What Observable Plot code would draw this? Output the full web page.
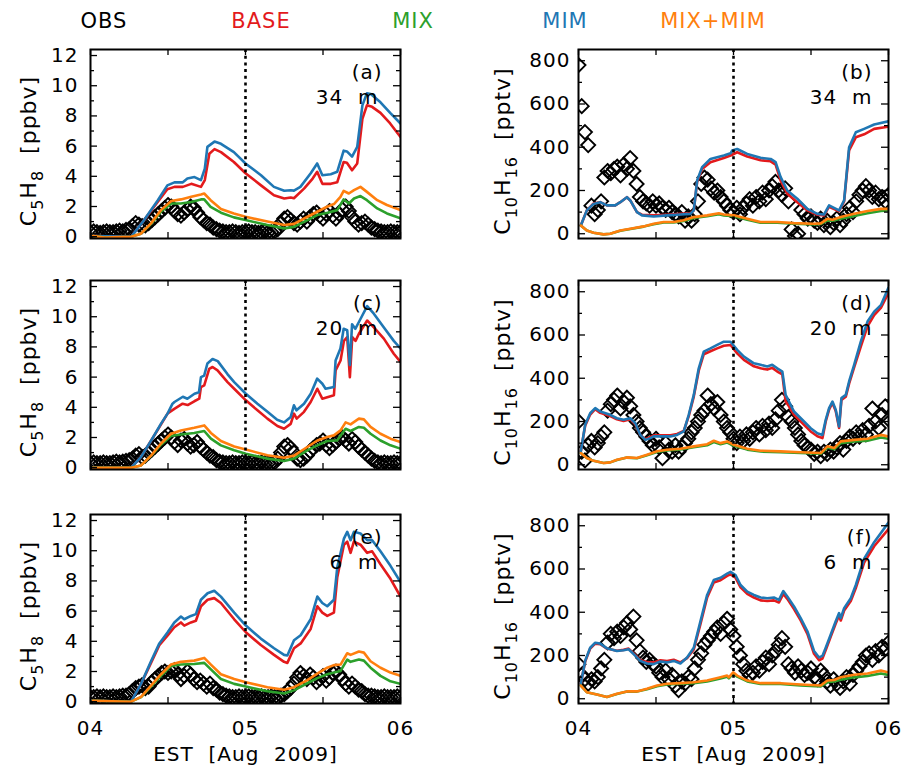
<!DOCTYPE html>
<html><head><meta charset="utf-8">
<script src="https://cdn.jsdelivr.net/npm/d3@7"></script>
<script src="https://cdn.jsdelivr.net/npm/@observablehq/plot@0.6"></script>
<style>
body{margin:0;background:#fff;}
#fig{position:relative;width:904px;height:772px;overflow:hidden;font-family:"DejaVu Sans",sans-serif;background:#fff;}
.leg{position:absolute;top:9px;font-size:21px;letter-spacing:1px;transform:translateX(-50%);white-space:pre;}
.panel{position:absolute;}
</style></head><body><div id="fig"></div><script>
// ---------- legend / series ----------
const legendNames = ["OBS", "BASE", "MIX", "MIM", "MIX+MIM"];
const legendColors = ["#000000", "#e31a1c", "#2ca02c", "#1f77b4", "#ff7f0e"];
const seriesNames = ["BASE", "MIM", "MIX", "MIX+MIM"];   // drawing order
const seriesColors = {"BASE": "#e31a1c", "MIX": "#2ca02c", "MIM": "#1f77b4", "MIX+MIM": "#ff7f0e"};

// ---------- axes ----------
const xTickHours = [0, 24, 48];
const xTickLabels = ["04", "05", "06"];
const xMinorHours = [0, 12, 24, 36, 48];
const isoTicks = [0, 2, 4, 6, 8, 10, 12];
const isoMinor = [1, 3, 5, 7, 9, 11];
const monoTicks = [0, 200, 400, 600, 800];
const monoMinor = [100, 300, 500, 700];
const panelIds = ["(a)", "(b)", "(c)", "(d)", "(e)", "(f)"];
const heightLabels = ["34\u00a0\u00a0m", "34\u00a0\u00a0m", "20\u00a0\u00a0m", "20\u00a0\u00a0m", "6\u00a0\u00a0m", "6\u00a0\u00a0m"];
// axis titles: [text, isSubscript]
const isoLabelParts = [["C", 0], ["5", 1], ["H", 0], ["8", 1], ["\u00a0\u00a0[ppbv]", 0]];
const monoLabelParts = [["C", 0], ["10", 1], ["H", 0], ["16", 1], ["\u00a0\u00a0[pptv]", 0]];
const xLabel = "EST\u00a0\u00a0[Aug\u00a0\u00a02009]";

// observations every 30 min from 04 Aug 00:00 (hours 0..48)
const obsStepHours = 0.5;

// ---------- C5H8 (ppbv) model series: [hour, value] ----------
const isoMim34 = [[0.4,0.05],[6.3,0],[8.3,1.1],[10.4,2.4],[11.9,3.4],[13.0,3.6],[14.3,3.6],[15.0,3.85],[16.1,3.95],[17.1,3.75],[17.7,4.5],[18.1,5.95],[19.2,6.3],[20.2,6.15],[22.2,5.6],[24.0,4.85],[26.4,4.07],[28.4,3.3],[30.0,3.04],[31.0,3.08],[31.5,3.05],[32.5,3.3],[34.1,4.2],[35.1,4.85],[35.9,4.07],[37.2,4.14],[38.2,4.3],[39.2,5.7],[39.7,5.65],[40.5,5.3],[41.3,5.95],[42.1,8.7],[42.8,9.5],[43.4,9.45],[44.9,8.9],[46.4,8.2],[48,7.5]];
const isoBase34 = [[0.4,0.05],[6.3,0],[8.3,1.1],[10.4,2.3],[11.9,3.15],[13.0,3.3],[14.3,3.3],[15.6,3.5],[17.1,3.3],[17.7,3.75],[18.4,5.5],[19.2,5.8],[20.2,5.6],[22.2,4.95],[24.0,4.2],[26.4,3.4],[28.4,2.75],[30.0,2.53],[31.0,2.6],[31.5,2.55],[33.1,3.2],[34.4,3.85],[35.1,4.3],[35.9,3.5],[37.2,3.5],[38.2,3.6],[39.2,4.95],[39.7,4.9],[40.5,4.4],[41.3,4.85],[42.1,7.8],[42.8,8.7],[43.6,8.6],[44.9,8.2],[46.4,7.5],[48,6.6]];
const isoMixMim34 = [[0.4,0.05],[2.2,-0.05],[6.3,0],[7.8,0.2],[9.4,0.9],[10.9,1.76],[12.5,2.36],[14.0,2.47],[15.6,2.64],[17.1,2.8],[17.6,2.86],[18.6,2.42],[20.2,1.83],[22.2,1.54],[24.0,1.32],[27.4,1.0],[30.0,0.77],[31.5,0.85],[33.6,1.32],[35.1,1.65],[36.7,2.0],[37.7,2.16],[38.7,2.64],[39.2,3.04],[40.0,2.86],[40.8,3.08],[41.8,3.3],[42.8,2.97],[44.4,2.42],[45.9,2.1],[48,1.76]];
const isoMix34 = [[0.4,0.05],[2.2,-0.05],[6.3,0],[7.8,0.2],[9.4,0.85],[10.9,1.65],[12.5,2.2],[14.0,2.2],[15.6,2.3],[17.1,2.47],[17.6,2.47],[18.6,1.98],[20.2,1.59],[22.2,1.28],[24.0,1.1],[27.4,0.77],[30.0,0.55],[31.5,0.65],[33.6,1.1],[35.1,1.43],[36.7,1.59],[38.2,1.76],[39.2,2.47],[40.0,2.2],[40.8,2.53],[41.8,2.69],[42.8,2.42],[44.4,1.87],[45.9,1.54],[48,1.21]];

const isoMim20 = [[0.4,0],[6.3,0],[7.8,0.7],[9.4,1.8],[10.9,2.9],[11.95,3.6],[12.7,4.24],[13.0,4.35],[14.3,4.7],[15.0,4.57],[16.1,4.9],[16.8,5.0],[17.1,6.0],[17.6,6.1],[18.1,6.9],[18.9,7.2],[19.7,7.06],[21.2,6.2],[22.25,5.67],[24.05,4.9],[25.85,4.24],[27.4,3.7],[28.9,3.18],[29.97,3.0],[31.0,3.36],[31.5,4.13],[31.9,3.8],[33.06,4.24],[34.1,4.9],[35.1,5.9],[35.9,5.56],[36.4,5.23],[37.7,5.34],[37.95,7.1],[38.7,7.9],[39.2,9.2],[39.75,9.1],[40.16,6.8],[40.5,9.5],[41.0,9.2],[41.56,9.65],[42.84,10.7],[43.87,10.2],[45.4,9.3],[46.96,8.4],[48,7.9]];
const isoBase20 = [[0.4,0],[6.3,0],[7.8,0.7],[9.4,1.8],[10.9,2.85],[11.95,3.6],[12.98,3.9],[14.26,4.24],[15.04,4.15],[16.07,4.4],[16.84,4.57],[17.1,5.34],[17.61,5.45],[18.38,6.55],[18.9,6.67],[19.67,6.45],[21.22,5.67],[22.25,5.23],[24.05,4.46],[25.85,3.8],[27.39,3.25],[28.94,2.76],[29.97,2.58],[31.0,2.9],[31.51,3.58],[31.93,3.25],[33.06,3.7],[34.09,4.35],[35.12,5.23],[35.89,4.57],[37.69,4.8],[37.95,6.45],[38.72,7.1],[39.24,8.4],[39.75,8.65],[40.16,6.0],[40.53,8.65],[41.04,8.4],[41.56,8.87],[42.84,9.75],[43.87,9.3],[45.42,8.55],[46.96,7.55],[48,7.0]];
const isoMixMim20 = [[0.4,0],[6.3,0],[7.83,0.15],[9.37,0.8],[10.92,1.6],[12.46,2.25],[14.0,2.47],[16.07,2.65],[17.61,2.8],[18.64,2.3],[20.19,1.77],[22.25,1.4],[24.05,1.2],[27.39,0.82],[29.97,0.66],[31.51,0.8],[33.57,1.37],[35.12,1.8],[36.66,2.03],[37.69,2.14],[38.72,2.47],[39.5,3.0],[40.27,2.87],[41.56,3.25],[42.33,3.2],[43.36,2.7],[44.9,2.25],[46.45,1.92],[48,1.7]];
const isoMix20 = [[0.4,0],[6.3,0],[7.83,0.15],[9.37,0.78],[10.92,1.52],[12.46,2.1],[14.0,2.2],[16.07,2.3],[17.61,2.43],[18.64,1.92],[20.19,1.48],[22.25,1.15],[24.05,0.93],[27.39,0.6],[29.97,0.44],[31.51,0.6],[33.57,1.15],[35.12,1.48],[36.66,1.77],[38.21,1.81],[39.5,2.58],[40.27,2.43],[41.56,2.7],[42.33,2.65],[43.36,2.25],[44.9,1.8],[46.45,1.48],[48,1.26]];

const isoMim6 = [[0.36,0.06],[6.28,0],[7.83,1.18],[9.37,2.68],[10.66,3.86],[11.95,4.6],[12.98,5.25],[14.0,5.64],[14.52,5.46],[15.55,5.68],[16.32,5.8],[17.1,6.75],[18.13,7.18],[19.16,7.35],[20.19,6.96],[22.25,5.9],[24.05,5.04],[26.37,4.18],[28.42,3.54],[29.97,3.1],[30.48,3.06],[31.51,4.07],[32.54,4.4],[34.09,5.46],[35.12,6.96],[35.89,6.54],[36.66,6.32],[37.69,6.75],[38.21,8.9],[39.24,10.8],[39.75,11.25],[40.27,10.7],[40.78,11.25],[41.81,11.14],[42.84,10.7],[43.61,10.7],[44.9,9.96],[46.45,9.0],[48,7.93]];
const isoBase6 = [[0.36,0.06],[6.28,0],[7.83,1.18],[9.37,2.57],[10.66,3.75],[11.95,4.39],[12.98,4.93],[14.0,5.25],[14.52,5.04],[15.55,5.25],[16.32,5.36],[17.1,6.32],[18.13,6.75],[19.16,6.86],[20.19,6.54],[22.25,5.46],[24.05,4.6],[26.37,3.75],[28.42,3.1],[29.97,2.64],[30.48,2.57],[31.51,3.54],[32.54,3.86],[34.09,4.82],[35.12,6.32],[35.89,5.9],[36.66,5.68],[37.69,5.9],[38.21,8.25],[39.24,10.4],[39.75,10.6],[40.27,9.86],[40.78,10.6],[41.81,10.4],[42.84,9.86],[43.61,9.96],[44.9,9.1],[46.45,8.14],[48,6.96]];
const isoMixMim6 = [[0.36,0.06],[6.28,0],[7.83,0.32],[9.37,1.07],[10.92,1.82],[12.46,2.46],[14.0,2.64],[16.07,2.72],[17.61,2.9],[18.64,2.46],[20.19,1.82],[22.25,1.5],[24.05,1.29],[27.39,0.96],[29.97,0.79],[31.51,0.96],[33.57,1.43],[35.12,1.86],[36.66,2.25],[37.69,2.42],[38.72,2.46],[39.75,3.21],[40.27,3.1],[41.56,3.32],[42.33,3.25],[43.36,2.68],[44.9,2.25],[46.45,1.93],[48,1.71]];
const isoMix6 = [[0.36,0.06],[6.28,0],[7.83,0.3],[9.37,1.0],[10.92,1.71],[12.46,2.36],[14.0,2.46],[16.07,2.5],[17.61,2.57],[18.64,2.14],[20.19,1.5],[22.25,1.18],[24.05,1.0],[27.39,0.69],[29.97,0.54],[31.51,0.75],[33.57,1.22],[35.12,1.56],[36.66,1.82],[37.69,1.93],[38.72,2.04],[39.75,2.79],[40.27,2.64],[41.56,2.79],[42.33,2.72],[43.36,2.25],[44.9,1.71],[46.45,1.35],[48,1.18]];

// ---------- C10H16 (pptv) model series: [hour, value] ----------
const monoMim34 = [[0.36,38],[1.29,108],[2.33,138],[3.36,146],[4.4,131],[5.69,131],[6.47,146],[7.5,169],[8.02,154],[9.05,100],[9.83,85],[11.64,80],[13.71,85],[15.78,89],[17.33,92],[17.85,108],[18.37,246],[19.14,308],[20.43,346],[22.5,362],[23.54,372],[23.8,385],[24.57,392],[26.13,369],[28.19,351],[29.75,346],[30.52,331],[31.3,262],[32.33,200],[33.88,162],[35.44,115],[36.99,92],[38.02,89],[38.8,131],[39.32,123],[40.35,108],[41.13,154],[41.9,400],[42.94,469],[44.23,485],[45.78,505],[48,520]];
const monoBase34 = [[0.36,38],[1.29,108],[2.33,140],[3.36,146],[4.4,131],[5.69,131],[6.47,146],[7.5,169],[8.02,154],[9.05,100],[9.83,88],[11.64,85],[13.71,88],[15.78,92],[17.33,95],[17.85,108],[18.37,240],[19.14,300],[20.43,331],[22.5,350],[23.54,362],[24.57,377],[26.13,357],[28.19,340],[29.75,335],[30.52,320],[31.3,246],[32.33,185],[33.88,146],[35.44,108],[36.99,88],[38.02,85],[38.8,125],[39.32,118],[40.35,104],[41.13,150],[41.9,385],[42.94,446],[44.23,460],[45.78,485],[48,495]];
const monoMixMim34 = [[0.36,38],[1.29,15],[2.33,5],[3.88,-3],[4.91,0],[6.47,15],[8.02,23],[10.09,34],[11.64,46],[13.19,54],[14.74,54],[16.3,62],[17.85,77],[19.92,85],[21.73,95],[22.5,89],[24.06,85],[26.13,69],[28.19,54],[30.78,54],[33.37,49],[36.47,46],[37.51,48],[38.54,69],[39.32,65],[40.61,77],[42.68,92],[44.75,105],[46.82,115],[48,115]];
const monoMix34 = [[0.36,38],[1.29,15],[2.33,5],[3.88,-3],[4.91,0],[6.47,14],[8.02,22],[10.09,33],[11.64,44],[13.19,52],[14.74,52],[16.3,59],[17.85,73],[19.92,81],[21.73,90],[22.5,85],[24.06,81],[26.13,65],[28.19,51],[30.78,51],[33.37,46],[36.47,43],[37.51,45],[38.54,62],[39.32,60],[40.61,69],[42.68,82],[44.75,95],[46.82,105],[48,108]];

const monoMim20 = [[0.36,62],[1.03,185],[1.81,238],[2.59,262],[3.36,246],[4.91,231],[5.95,215],[6.98,208],[8.02,215],[8.79,192],[9.57,138],[10.35,115],[11.12,123],[11.64,131],[12.67,131],[14.23,131],[15.26,138],[16.3,154],[17.07,231],[17.85,323],[18.62,446],[19.4,523],[20.43,538],[21.47,554],[22.5,569],[23.54,569],[24.57,531],[25.61,500],[27.16,469],[28.19,462],[29.23,454],[30.0,462],[30.78,446],[31.56,431],[32.07,323],[32.59,292],[33.37,246],[34.92,200],[35.95,169],[36.99,146],[37.77,138],[38.28,208],[38.8,262],[39.32,292],[39.83,254],[40.35,177],[40.71,308],[41.39,323],[41.9,385],[42.68,462],[43.71,569],[44.75,662],[45.78,708],[46.82,738],[48,820]];
const monoBase20 = [[0.36,62],[1.03,180],[1.81,232],[2.59,257],[3.36,240],[4.91,225],[5.95,210],[6.98,202],[8.02,210],[8.79,188],[9.57,138],[10.35,118],[11.12,128],[11.64,136],[12.67,136],[14.23,136],[15.26,142],[16.3,156],[17.07,225],[17.85,315],[18.62,435],[19.4,511],[20.43,525],[21.47,538],[22.5,550],[23.54,554],[24.57,515],[25.61,485],[27.16,455],[28.19,446],[29.23,440],[30.0,448],[30.78,431],[31.56,418],[32.07,292],[32.59,270],[33.37,231],[34.92,185],[35.95,154],[36.99,132],[37.77,123],[38.28,200],[38.8,255],[39.32,286],[39.83,248],[40.35,170],[40.71,300],[41.39,315],[41.9,375],[42.68,450],[43.71,546],[44.75,640],[45.78,692],[46.82,725],[48,795]];
const monoMixMim20 = [[0.36,54],[1.29,31],[2.33,18],[3.88,8],[4.91,11],[5.95,23],[7.5,34],[9.05,31],[10.61,46],[12.16,62],[13.71,69],[15.78,74],[17.85,85],[19.92,95],[20.95,111],[21.99,100],[23.02,108],[24.06,92],[26.13,74],[28.19,65],[31.3,62],[34.4,58],[37.51,54],[38.54,85],[39.58,77],[40.61,108],[42.68,115],[44.75,120],[46.82,138],[48,131]];
const monoMix20 = [[0.36,54],[1.29,31],[2.33,18],[3.88,8],[4.91,11],[5.95,22],[7.5,33],[9.05,30],[10.61,44],[12.16,59],[13.71,66],[15.78,71],[17.85,81],[19.92,90],[20.95,105],[21.99,95],[23.02,103],[24.06,88],[26.13,70],[28.19,61],[31.3,58],[34.4,55],[37.51,51],[38.54,80],[39.58,72],[40.61,100],[42.68,108],[44.75,111],[46.82,126],[48,120]];

const monoMim6 = [[0.36,69],[1.03,175],[1.81,236],[2.59,259],[3.36,255],[4.4,233],[5.95,221],[6.98,224],[7.76,229],[8.54,206],[9.57,175],[10.61,163],[11.64,160],[12.67,172],[13.71,168],[14.74,175],[15.78,163],[16.81,191],[17.85,236],[18.88,358],[19.92,480],[20.95,549],[21.99,559],[23.02,579],[23.54,587],[24.31,572],[25.09,526],[26.13,495],[27.16,480],[28.19,468],[29.23,465],[30.26,468],[31.04,457],[31.71,498],[32.33,473],[33.37,427],[34.4,373],[35.44,312],[36.47,221],[37.25,191],[37.77,198],[38.28,236],[39.06,297],[39.83,358],[40.35,396],[40.61,373],[41.13,419],[42.16,465],[42.94,526],[44.23,648],[45.78,724],[48,815]];
const monoBase6 = [[0.36,69],[1.03,172],[1.81,232],[2.59,255],[3.36,252],[4.4,232],[5.95,222],[6.98,226],[7.76,232],[8.54,210],[9.57,178],[10.61,170],[11.64,168],[12.67,178],[13.71,174],[14.74,180],[15.78,168],[16.81,188],[17.85,228],[18.88,345],[19.92,468],[20.95,538],[21.99,548],[23.02,568],[23.54,575],[24.31,560],[25.09,515],[26.13,485],[27.16,468],[28.19,455],[29.23,452],[30.26,455],[31.04,445],[31.71,485],[32.33,462],[33.37,415],[34.4,362],[35.44,300],[36.47,208],[37.25,178],[37.77,186],[38.28,225],[39.06,288],[39.83,348],[40.35,385],[40.61,362],[41.13,408],[42.16,452],[42.94,512],[44.23,630],[45.78,705],[48,785]];
const monoMixMim6 = [[0.36,61],[1.29,30],[2.85,20],[4.4,8],[5.95,23],[7.5,34],[9.05,34],[10.61,46],[12.16,61],[13.71,69],[15.78,72],[17.85,76],[19.92,84],[21.99,99],[23.02,107],[23.28,99],[23.95,122],[24.57,107],[26.13,84],[28.19,72],[31.3,72],[34.4,66],[37.51,61],[38.54,84],[39.58,87],[40.61,99],[42.68,111],[44.75,117],[46.82,130],[48,122]];
const monoMix6 = [[0.36,61],[1.29,30],[2.85,20],[4.4,8],[5.95,22],[7.5,33],[9.05,33],[10.61,44],[12.16,58],[13.71,66],[15.78,69],[17.85,72],[19.92,80],[21.99,94],[23.02,102],[23.28,94],[23.95,116],[24.57,102],[26.13,80],[28.19,68],[31.3,68],[34.4,62],[37.51,57],[38.54,76],[39.58,80],[40.61,88],[42.68,99],[44.75,105],[46.82,117],[48,110]];

// ---------- observations (30-min), 97 values each ----------
const isoObs34 = [
0.3,0.35,0.3,0.25,0.3,0.35,0.3,0.3,0.35,0.4,0.35,0.45,
0.5,0.7,0.9,0.8,0.7,0.75,0.9,1.1,1.3,1.5,1.7,1.9,
2.1,2.0,1.7,1.5,1.4,1.6,1.8,2.0,1.9,1.6,1.3,1.1,
0.9,0.8,0.6,0.5,0.4,0.35,0.3,0.3,0.35,0.3,0.25,0.3,
0.3,0.35,0.3,0.3,0.25,0.3,0.35,0.3,0.3,0.35,0.5,0.9,
1.2,1.3,1.1,0.9,0.8,1.0,1.2,1.0,1.3,1.5,1.6,1.4,
1.2,1.5,1.7,1.4,1.2,1.5,1.8,2.0,1.7,1.3,1.0,0.8,
0.9,1.0,0.8,0.6,0.5,0.4,0.35,0.3,0.3,0.35,0.3,0.3,
0.3];
const isoObs20 = [
0.3,0.35,0.3,0.3,0.35,0.3,0.3,0.35,0.4,0.35,0.4,0.45,
0.5,0.6,0.8,0.9,0.7,0.8,1.0,1.2,1.4,1.6,1.8,2.0,
2.2,2.0,1.7,1.5,1.8,1.9,1.6,1.4,1.5,1.7,1.4,1.2,
1.0,0.8,0.7,0.5,0.4,0.35,0.3,0.3,0.35,0.3,0.3,0.35,
0.3,0.3,0.35,0.3,0.3,0.35,0.3,0.3,0.3,0.35,0.6,1.0,
1.4,1.5,1.3,1.0,0.6,0.5,0.6,0.8,1.1,1.3,1.5,1.6,
1.8,1.5,1.3,1.5,1.7,1.9,2.0,1.8,1.6,1.9,1.7,1.4,
1.2,1.0,0.8,0.6,0.45,0.35,0.3,0.35,0.3,0.3,0.35,0.3,
0.3];
const isoObs6 = [
0.3,0.3,0.35,0.3,0.35,0.3,0.3,0.35,0.3,0.35,0.4,0.4,
0.5,0.7,0.9,1.0,1.1,0.9,1.0,1.3,1.5,1.7,1.9,2.0,
1.9,2.0,2.1,1.8,1.5,1.7,2.0,1.8,1.5,1.3,1.4,1.2,
1.0,1.2,0.9,0.8,0.6,0.5,0.4,0.35,0.3,0.3,0.35,0.3,
0.3,0.35,0.3,0.3,0.3,0.35,0.3,0.3,0.35,0.3,0.3,0.4,
0.5,0.7,0.9,1.2,1.6,1.9,1.7,1.5,1.8,1.6,1.3,1.5,
1.7,1.4,1.6,1.9,2.0,1.8,1.5,1.2,1.0,1.2,1.0,0.8,
0.7,0.5,0.4,0.4,0.35,0.3,0.3,0.35,0.3,0.3,0.3,0.35,
0.3];
const monoObs34 = [
780,590,470,410,130,90,110,150,260,290,280,300,
310,270,320,300,350,290,230,170,150,140,130,150,
130,140,120,110,120,100,90,80,100,60,80,60,
90,150,230,260,250,210,190,200,170,150,130,110,
100,120,90,120,140,160,130,170,150,190,160,200,
220,240,200,180,210,150,20,-10,0,110,90,70,
80,60,50,70,40,60,30,50,70,40,60,90,
120,100,150,180,200,220,200,170,190,160,170,150,
180];
const monoObs20 = [
200,60,20,90,110,80,100,130,150,250,280,300,
320,260,290,310,270,230,200,170,150,130,110,90,
120,80,30,100,70,60,90,60,80,100,120,150,
170,200,230,250,320,280,260,290,230,200,170,150,
120,100,130,110,140,120,150,170,140,180,160,190,
170,210,250,300,270,220,200,170,140,110,90,80,
70,50,60,40,60,50,70,60,80,100,70,110,
130,120,150,130,160,140,180,260,200,170,230,270,
210];
const monoObs6 = [
160,110,90,70,90,80,100,140,180,260,300,280,
310,290,330,350,320,380,270,220,190,170,180,160,
150,120,100,130,90,110,60,40,80,70,100,90,
140,180,210,250,270,290,310,330,300,350,370,320,
290,240,200,160,130,110,120,150,130,170,190,160,
200,220,250,280,240,160,140,120,150,130,110,120,
140,100,90,130,110,80,60,90,70,50,80,100,
70,110,130,150,170,200,210,180,220,200,240,230,
260];

// ---------- layout (pixels) ----------
const FRAME_W = 310, FRAME_H = 189, MT = 12;
const colLeft = [0, 460], colMarginLeft = [90, 118];
const rowFrameTop = [49, 280, 514];
const legendX = [104, 261, 413, 565, 713];

const diamond = {draw(ctx, size) {
  const r = Math.sqrt(size / Math.PI);
  ctx.moveTo(0, -r); ctx.lineTo(r, 0); ctx.lineTo(0, r); ctx.lineTo(-r, 0); ctx.closePath();
}};

const panels = [
  {obs: isoObs34, series: {"BASE": isoBase34, "MIX": isoMix34, "MIM": isoMim34, "MIX+MIM": isoMixMim34}, iso: true},
  {obs: monoObs34, series: {"BASE": monoBase34, "MIX": monoMix34, "MIM": monoMim34, "MIX+MIM": monoMixMim34}, iso: false},
  {obs: isoObs20, series: {"BASE": isoBase20, "MIX": isoMix20, "MIM": isoMim20, "MIX+MIM": isoMixMim20}, iso: true},
  {obs: monoObs20, series: {"BASE": monoBase20, "MIX": monoMix20, "MIM": monoMim20, "MIX+MIM": monoMixMim20}, iso: false},
  {obs: isoObs6, series: {"BASE": isoBase6, "MIX": isoMix6, "MIM": isoMim6, "MIX+MIM": isoMixMim6}, iso: true},
  {obs: monoObs6, series: {"BASE": monoBase6, "MIX": monoMix6, "MIM": monoMim6, "MIX+MIM": monoMixMim6}, iso: false}
];

const fig = document.getElementById("fig");

legendNames.forEach((n, i) => {
  const d = document.createElement("div");
  d.className = "leg";
  d.style.left = legendX[i] + "px";
  d.style.color = legendColors[i];
  d.textContent = n;
  fig.appendChild(d);
});

const AXIS_TITLE_KEY = "__axis_title__";

panels.forEach((p, k) => {
  const col = k % 2, row = Math.floor(k / 2);
  const bottom = row === 2;
  const ml = colMarginLeft[col], mr = 10, mb = bottom ? 70 : 12;
  const obsData = p.obs.map((v, i) => ({h: i * obsStepHours, v}));
  const marks = [];
  marks.push(Plot.dot(obsData, {x: "h", y: "v", r: 7, symbol: diamond, stroke: "black", strokeWidth: 1.9, fill: "none", clip: true}));
  for (const s of seriesNames) {
    const data = p.series[s].map(([h, v]) => ({h, v}));
    marks.push(Plot.line(data, {x: "h", y: "v", stroke: seriesColors[s], strokeWidth: 2.6, clip: true}));
  }
  const ticks = p.iso ? isoTicks : monoTicks, minor = p.iso ? isoMinor : monoMinor;
  marks.push(Plot.ruleX([24], {stroke: "black", strokeWidth: 2.6, strokeDasharray: "3,3.7"}));
  // inward ticks
  marks.push(Plot.ruleY(ticks, {y: d => d, insetRight: FRAME_W - 7, strokeWidth: 1.3}));
  marks.push(Plot.ruleY(ticks, {y: d => d, insetLeft: FRAME_W - 7, strokeWidth: 1.3}));
  marks.push(Plot.ruleY(minor, {y: d => d, insetRight: FRAME_W - 4, strokeWidth: 1.3}));
  marks.push(Plot.ruleY(minor, {y: d => d, insetLeft: FRAME_W - 4, strokeWidth: 1.3}));
  marks.push(Plot.ruleX(xMinorHours, {x: d => d, insetTop: FRAME_H - 6, strokeWidth: 1.3}));
  marks.push(Plot.ruleX(xMinorHours, {x: d => d, insetBottom: FRAME_H - 6, strokeWidth: 1.3}));
  marks.push(Plot.frame({stroke: "black", strokeWidth: 2}));
  marks.push(Plot.text([panelIds[k]], {text: d => d, frameAnchor: "top-right", dx: col ? -16 : -18, dy: 15, fill: "black"}));
  marks.push(Plot.text([heightLabels[k]], {text: d => d, frameAnchor: "top-right", dx: col ? -16 : -22, dy: 40, fill: "black"}));
  marks.push(Plot.text([AXIS_TITLE_KEY], {text: d => d, frameAnchor: "left", textAnchor: "middle", rotate: -90, dx: col ? -76 : -62, dy: 7, fontSize: 22, fill: "black"}));
  if (bottom) marks.push(Plot.text([xLabel], {text: d => d, frameAnchor: "bottom", dy: 57, fill: "black"}));

  const svg = Plot.plot({
    width: ml + FRAME_W + mr,
    height: MT + FRAME_H + mb,
    marginLeft: ml, marginRight: mr, marginTop: MT, marginBottom: mb,
    style: {fontFamily: "DejaVu Sans, sans-serif", fontSize: "20px", letterSpacing: "1px", background: "transparent", overflow: "visible", color: "black"},
    x: {domain: [0, 48], ticks: xTickHours, tickFormat: d => xTickLabels[xTickHours.indexOf(d)], tickSize: 0, tickPadding: 17, label: null, axis: bottom ? "bottom" : null},
    y: {domain: p.iso ? [-0.12, 12.4] : [-22, 852], ticks: ticks, tickSize: 0, tickPadding: col ? 8 : 12, label: null},
    marks
  });
  // axis title with real subscripts
  const parts = p.iso ? isoLabelParts : monoLabelParts;
  d3.select(svg).selectAll("text").filter(function() { return this.textContent === AXIS_TITLE_KEY; })
    .each(function() {
      const t = d3.select(this);
      t.text(null);
      let prevSub = false;
      parts.forEach(([s, sub]) => {
        const ts = t.append("tspan").text(s);
        if (sub) ts.attr("font-size", "16px").attr("dy", prevSub ? 0 : 7);
        else if (prevSub) ts.attr("dy", -7);
        prevSub = !!sub;
      });
    });
  const div = document.createElement("div");
  div.className = "panel";
  div.style.left = colLeft[col] + "px";
  div.style.top = (rowFrameTop[row] - MT) + "px";
  div.appendChild(svg);
  fig.appendChild(div);
});
</script></body></html>
